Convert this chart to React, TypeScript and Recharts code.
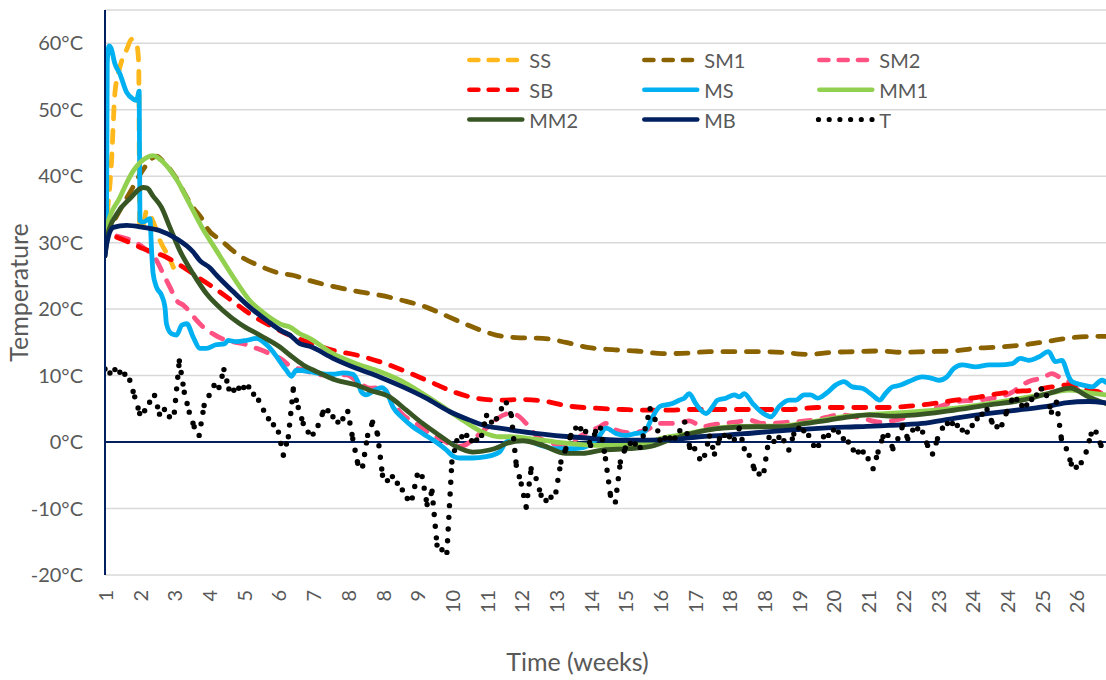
import { CartesianGrid, Label, Line, LineChart, ReferenceLine, XAxis, YAxis } from "recharts";

// x axis runs in days; one tick label every 7 days
const weekLabels = ["1", "2", "3", "4", "5", "6", "7", "8", "8", "9", "10", "11", "12", "13", "14", "15", "16", "17", "18", "18", "19", "20", "21", "22", "23", "24", "24", "25", "26"];
const weekTicks = weekLabels.map((_, i) => i * 7);
const tempTicks = [-20, -10, 0, 10, 20, 30, 40, 50, 60];

// [day, °C]
const ss: [number, number][] = [
  [0, 31], [0.4, 34], [1.3, 42], [2, 52.5], [3, 56.4], [4.4, 59.1], [5.4, 60.6], [6.4, 59.8], [6.8, 57],
  [7.0, 32], [7.7, 32.6], [8.4, 34.8], [9.8, 33], [11.1, 30.3], [13.1, 27.5], [13.8, 26.3],
];

const sm1: [number, number][] = [
  [0, 30.5], [2, 33.5], [5, 37.5], [7.7, 41], [9.7, 42.8], [10.4, 43], [11.75, 42.2], [14.45, 39.6], [16.5, 36.8],
  [17.8, 35.3], [19.8, 33.3], [20.5, 32.3], [23.5, 30.3], [27.2, 28], [31.2, 26.5], [35.3, 25.4], [37.9, 25.1],
  [41.3, 24.3], [46.7, 23.3], [51.4, 22.6], [55.4, 22.1], [60.1, 21.3], [64.8, 20.3], [69.5, 18.8], [74.2, 17.3],
  [78.9, 16.1], [83, 15.7], [88.3, 15.6], [93, 15.0], [97.7, 14.2], [102.4, 13.9], [107.2, 13.7], [112.5, 13.3],
  [117.9, 13.4], [121.9, 13.6], [127.3, 13.6], [132, 13.6], [136.7, 13.5], [141.7, 13.2], [146.8, 13.5],
  [151.5, 13.6], [156.2, 13.7], [160.9, 13.5], [165.6, 13.6], [171, 13.7], [175.7, 14.1], [180.4, 14.3],
  [185.1, 14.6], [189.8, 15.1], [195.1, 15.7], [199.9, 15.9], [202, 15.9],
];

const sm2: [number, number][] = [
  [2.4, 31.0], [4.4, 30.6], [7.7, 29.3], [10.4, 27.3], [11.75, 25.3], [13.1, 23.3], [14.45, 21.3], [15.8, 20.6],
  [17.1, 19.6], [18.5, 18.3], [19.8, 17.3], [22.2, 16.1], [24.5, 15.3], [27.9, 14.8], [30.6, 14.1], [33.3, 13.3],
  [35.9, 12.3], [37.6, 11.3], [39.3, 11.0], [44, 10.1], [48.7, 10.1], [51, 9.1], [53.4, 8.1], [56.1, 8.2],
  [57.4, 6.8], [60.1, 4.1], [62.8, 2.8], [65.5, 1.3], [68.2, 0.3], [70.9, -0.7], [72.5, -0.5], [74.9, 0.8],
  [77.6, 2.5], [79.3, 3.6], [81.6, 4.3], [83, 4.1], [85, 2.8], [87, 1.0], [90.3, -0.2], [93, -0.5], [95.7, 0.8],
  [99.8, 2.3], [101.1, 2.8], [103.1, 1.8], [105.8, 1.4], [109.2, 1.8], [111.9, 2.8], [113.9, 2.8], [116.5, 3.0],
  [117.9, 3.2], [120.6, 2.3], [122.6, 2.6], [124.6, 2.8], [127.3, 3.0], [130, 3.3], [132.7, 2.8], [138.1, 3.0],
  [142.8, 3.3], [145.5, 3.7], [148.1, 4.1], [152.8, 3.6], [156.2, 3.0], [159.5, 3.3], [162, 3.8], [165, 4.5],
  [168.3, 5.3], [170.3, 5.8], [172, 6.1], [175.7, 6.3], [180.4, 6.8], [183.1, 7.5], [185.1, 8.6], [187.1, 9.3],
  [189.1, 9.6], [191.1, 10.3], [192.5, 9.8], [194.5, 9.1], [196, 8.0], [198.5, 7.6], [202, 7.4],
];

const sb: [number, number][] = [
  [2.36, 30.8], [4.4, 30.2], [7.7, 29.1], [12.4, 27.8], [15.8, 26.3], [19.15, 24.6], [21.8, 23.3], [25.9, 21.1],
  [29.2, 19.3], [32.6, 17.8], [36.6, 16.3], [42.7, 14.6], [46, 13.8], [50.7, 13.1], [55.4, 12.1], [60.1, 10.8],
  [65.5, 9.1], [70.2, 7.6], [74.9, 6.6], [79.6, 6.3], [84.3, 6.4], [88.3, 6.2], [93.7, 5.4], [99.1, 5.1],
  [104.5, 4.9], [108.5, 4.8], [113.2, 4.8], [117.9, 4.9], [124.6, 4.9], [131.3, 4.9], [138.1, 4.9], [143.7, 5.2],
  [147.5, 5.2], [152.8, 5.2], [158.2, 5.2], [162.2, 5.4], [166.3, 5.7], [171.6, 6.3], [175.7, 6.7], [180.4, 7.3],
  [183.7, 7.6], [187.1, 7.8], [191.1, 8.3], [194.5, 8.6], [198.5, 7.8], [202, 7.5],
];

const ms: [number, number][] = [
  [0, 30.5], [0.3, 32], [0.45, 57], [0.8, 59.6], [1.2, 59.3], [2, 56.9], [3, 55.4], [4.37, 52.6], [5.7, 51.6],
  [6.4, 51.4], [6.9, 52.8], [7.05, 33.3], [7.7, 33.1], [9.07, 33.6], [9.4, 28.8], [9.7, 25.4], [10.4, 23.3],
  [11.4, 22.1], [12.1, 20.3], [12.4, 17.8], [13.4, 16.3], [14.45, 16.1], [15.5, 17.6], [16.5, 17.8], [17.8, 15.8],
  [19.15, 14.1], [20.5, 14.1], [22.2, 14.6], [24.2, 14.8], [24.8, 15.3], [26.5, 15.1], [28.6, 15.3], [30.6, 15.6],
  [31.9, 15.1], [33.9, 13.6], [35.6, 11.8], [36.6, 10.8], [37.6, 9.9], [38.6, 10.8], [41.3, 10.6], [43.3, 10.3],
  [46, 10.2], [48, 10.4], [50, 10.2], [51, 9.1], [51.7, 7.6], [52.7, 7.1], [54.4, 7.8], [55.8, 8.2], [56.8, 7.6],
  [58.1, 5.3], [60.1, 3.6], [62.1, 2.3], [64.1, 1.3], [66.8, 0], [68.9, -1.2], [70.2, -2.1], [71.5, -2.4],
  [74.2, -2.4], [76.9, -2.2], [79.6, -1.5], [81, 0], [84, 0.5], [88, -0.5], [91, -1.0], [95, -1.0], [97.7, -0.5],
  [99.8, 1.0], [101.1, 2.1], [103.1, 1.3], [105.1, 1.0], [107.2, 1.3], [108.8, 1.5], [110.5, 3.8], [111.9, 5.3],
  [113.2, 5.6], [114.5, 5.8], [115.9, 6.3], [116.9, 6.6], [117.9, 7.3], [119.2, 5.8], [121.3, 4.3], [122.6, 5.3],
  [123.6, 6.3], [125.3, 6.6], [127, 7.1], [128, 6.8], [129, 7.3], [130.7, 5.8], [132.3, 4.6], [134.4, 3.8],
  [136, 5.3], [138.1, 6.3], [139.4, 6.3], [141.1, 7.1], [142.4, 7.1], [143.8, 6.6], [145.5, 7.3], [147.5, 8.6],
  [149.1, 9.1], [150.8, 8.3], [152.8, 8.1], [154.8, 7.1], [156.3, 6.3], [157.5, 7.3], [158.9, 8.3], [160.2, 8.5],
  [162.2, 9.1], [164.9, 9.8], [166.3, 9.7], [168.3, 9.3], [169.9, 9.8], [171.3, 11.1], [173, 11.6], [175.7, 11.3],
  [178.4, 11.6], [180.4, 11.6], [183.1, 11.8], [184.7, 12.6], [186.4, 12.3], [188.4, 12.8], [190.4, 13.6],
  [191.8, 12.1], [193.1, 12.3], [194.5, 9.8], [195.1, 9.1], [197.2, 8.6], [199.2, 8.3], [201.2, 9.3], [202, 9.0],
];

const mm1: [number, number][] = [
  [0, 30.5], [0.34, 32.3], [3, 36.8], [5.7, 40.8], [8.4, 42.8], [9.7, 43.1], [11.75, 42.1], [14.45, 39.5],
  [17.1, 35.8], [19.8, 32], [22.5, 28.8], [25.9, 24.8], [29.2, 21.3], [32.6, 19.1], [35.9, 17.6], [37.3, 17.3],
  [39.3, 16.3], [41.3, 15.6], [46, 13.3], [50.7, 11.8], [55.4, 10.6], [59.5, 9.3], [64.1, 7.3], [68.2, 5.3],
  [72.2, 3.3], [76.2, 1.5], [79.6, 0.8], [81.6, 0.8], [87, 0.4], [91, 0], [95.1, -0.3], [99.8, -0.5], [104.5, -0.5],
  [108.5, -0.2], [113.2, 0.7], [117.9, 1.3], [121.9, 1.9], [126.6, 2.3], [131.3, 2.4], [136, 2.4], [140.7, 2.8],
  [144.8, 3.3], [148.8, 3.8], [153.5, 4.1], [158.2, 4.3], [164.2, 4.6], [171.6, 5.1], [178.4, 5.8], [185.1, 6.6],
  [190.4, 7.3], [194.5, 7.8], [198.5, 7.4], [202, 7.1],
];

const mm2: [number, number][] = [
  [0, 28], [0.5, 31], [2.36, 34.3], [5, 36.6], [7.7, 38.3], [8.5, 38.2], [9.7, 37.0], [11.4, 35.3], [13.1, 32.3],
  [15.1, 28.8], [17.8, 25.3], [20.5, 22.3], [23.8, 19.8], [27.2, 17.8], [31.2, 16.1], [35.3, 14.3], [37.3, 13.1],
  [40, 11.6], [42.7, 10.6], [46.7, 9.3], [50.7, 8.6], [53.4, 7.8], [57.4, 6.8], [60.8, 4.8], [64.1, 2.8],
  [67.5, 1.0], [70.9, -0.7], [74.2, -1.5], [77.6, -1.2], [79.6, -0.7], [81, -0.2], [84.3, 0.2], [88.3, -0.5],
  [93, -1.7], [96.4, -1.7], [100.4, -1.2], [105.8, -1.0], [109.8, -0.7], [113.9, 0.3], [117.9, 1.2], [124.6, 2.1],
  [131.3, 2.3], [136.7, 2.3], [141.4, 2.8], [146.1, 3.3], [150.2, 3.8], [154.2, 4.1], [158.2, 3.9], [163.6, 4.1],
  [170.3, 4.7], [178.4, 5.6], [185.1, 6.3], [190.4, 7.3], [194.8, 8.1], [198.5, 6.8], [202, 5.8],
];

const mb: [number, number][] = [
  [0, 28], [0.34, 29.8], [1.67, 32.3], [4.37, 32.6], [7.7, 32.3], [11.1, 31.8], [14.45, 30.6], [17.8, 28.6],
  [19.15, 27.3], [21.2, 26.2], [22.5, 25.1], [25.9, 22.6], [29.2, 20.3], [32.6, 18.3], [35.9, 16.6], [37.3, 16.1],
  [39.3, 14.8], [41.3, 14.4], [46, 12.6], [50.7, 11.1], [55.4, 9.8], [60.1, 8.3], [64.8, 6.6], [69.5, 4.6],
  [73.6, 3.3], [77.6, 2.3], [79.6, 2.1], [83, 1.7], [88.3, 1.2], [93.7, 0.8], [99.1, 0.5], [104.5, 0.3],
  [109.8, 0.3], [115.2, 0.4], [119.9, 0.8], [124.6, 1.0], [131.3, 1.4], [138.1, 1.8], [144.8, 2.1], [151.5, 2.3],
  [158.2, 2.5], [164.9, 2.8], [171.6, 3.6], [178.4, 4.3], [185.1, 4.9], [190.4, 5.4], [193.8, 5.9], [198.5, 6.1],
  [202, 5.9],
];

// outdoor temperature, one reading per day starting at day 0
const tempT: number[] = [
  11.0, 10.4, 10.9, 10.5, 10.2, 9.3, 6.8, 4.3, 4.7, 6.0,
  7.0, 4.2, 4.9, 3.8, 4.5, 12.2, 7.5, 4.5, 2.3, 1.0,
  5.5, 7.0, 8.5, 8.2, 10.9, 8.0, 7.8, 8.1, 8.2, 8.3,
  7.2, 6.3, 4.8, 3.5, 2.6, 1.5, -2.0, 0.8, 8.0, 5.2,
  2.8, 1.5, 1.2, 2.5, 4.5, 4.7, 3.8, 3.0, 3.5, 4.6,
  0.5, -3.2, -3.6, 1.0, 3.0, 1.2, -5.0, -5.8, -5.2, -6.2,
  -7.2, -8.5, -8.4, -5.0, -5.2, -9.4, -7.4, -15.5, -16.2, -16.6,
  -3.0, 0.2, 0.8, 1.0, 0.2, 0.3, 1.0, 4.0, 3.0, 3.5,
  5.0, 5.9, 4.0, -3.5, -6.3, -9.8, -4.0, -5.5, -8.0, -8.8,
  -8.3, -7.5, -3.0, -1.0, 1.0, 2.1, 2.0, 1.6, -0.5, 1.6,
  2.1, -2.5, -8.0, -9.0, -3.0, -0.9, -0.2, -0.3, -0.8, 2.0,
  5.0, 3.4, 0.3, 0.6, 0.6, 0.6, 1.7, 3.0, -0.8, -1.0,
  -2.5, -2.0, 0.9, -1.8, 0.5, 1.0, 0.8, 0.4, 2.1, -1.0,
  -2.0, -4.0, -4.8, -4.3, 0.7, 0.1, 0.7, 0.2, -1.2, 1.2,
  2.1, 1.7, 1.0, -0.5, -0.5, 0.8, 1.0, 1.8, 1.5, 0.5,
  0.0, -1.2, -1.5, -1.5, -2.5, -4.0, -1.5, 0.8, 1.0, -1.0,
  0.5, 2.5, 0.5, 1.8, 2.0, 1.5, -0.5, -1.8, 0.5, 2.1,
  2.8, 2.8, 2.5, 1.8, 1.5, 2.5, 3.5, 4.2, 4.9, 3.0,
  2.3, 2.6, 4.6, 6.3, 6.4, 5.5, 5.6, 6.4, 7.1, 8.0,
  7.0, 4.5, 6.0, 0.5, -1.0, -3.3, -3.8, -3.1, -1.5, 1.2,
  1.5, -0.5, -1.2,
];

const FONT = "Lato, 'Open Sans', sans-serif";
const GREY = "#595959";
const PLOT_DASH = "12 11.5";
const LEGEND_DASH = "9 10.3";

// each segment becomes its own subpath, so the dot pattern restarts at every vertex
const segmentCurve = (context: any) => {
  let first = true;
  return {
    areaStart() {},
    areaEnd() {},
    lineStart() {
      first = true;
    },
    lineEnd() {},
    point(x: number, y: number) {
      if (first) {
        context.moveTo(x, y);
        first = false;
      } else {
        context.lineTo(x, y);
        context.moveTo(x, y);
      }
    },
  };
};

const toRows = (pts: [number, number][]) => pts.map(([day, v]) => ({ day, v }));

type Series = { name: string; color: string; rows: { day: number; v: number }[]; kind: "dash" | "solid" | "dot" };

const series: Series[] = [
  { name: "SS", color: "#FFB81C", rows: toRows(ss), kind: "dash" },
  { name: "SM1", color: "#8A6200", rows: toRows(sm1), kind: "dash" },
  { name: "SM2", color: "#FF5283", rows: toRows(sm2), kind: "dash" },
  { name: "SB", color: "#FF0000", rows: toRows(sb), kind: "dash" },
  { name: "MS", color: "#00B0F0", rows: toRows(ms), kind: "solid" },
  { name: "MM1", color: "#92D050", rows: toRows(mm1), kind: "solid" },
  { name: "MM2", color: "#375623", rows: toRows(mm2), kind: "solid" },
  { name: "MB", color: "#002060", rows: toRows(mb), kind: "solid" },
  { name: "T", color: "#000000", rows: tempT.map((v, day) => ({ day, v })), kind: "dot" },
];

function WeekTick({ x, y, payload }: any) {
  return (
    <text
      x={x}
      y={y}
      transform={`rotate(-90, ${x}, ${y})`}
      textAnchor="end"
      dominantBaseline="central"
      fill={GREY}
      fontSize={20}
      fontFamily={FONT}
    >
      {weekLabels[Math.round(payload.value / 7)]}
    </text>
  );
}

function LegendBox() {
  return (
    <svg width={1106} height={680} style={{ position: "absolute", left: 0, top: 0, pointerEvents: "none" }}>
      {series.map((s, i) => {
        const x = 467 + (i % 3) * 175;
        const y = 60 + Math.floor(i / 3) * 29.75;
        const dot = s.kind === "dot";
        return (
          <g key={s.name}>
            <line
              x1={dot ? x + 1.5 : x + 2.4}
              x2={dot ? x + 55 : x + 55.2}
              y1={y}
              y2={y}
              stroke={s.color}
              strokeWidth={dot ? 5.2 : 4.7}
              strokeLinecap="round"
              strokeDasharray={s.kind === "dash" ? LEGEND_DASH : dot ? "0 10.7" : undefined}
            />
            <text x={x + 62.3} y={y} dominantBaseline="central" fill={GREY} fontSize={20} fontFamily={FONT}>
              {s.name}
            </text>
          </g>
        );
      })}
    </svg>
  );
}

export default function App() {
  return (
    <div style={{ position: "absolute", left: 0, top: 0, width: 1106, height: 680, background: "#fff" }}>
      <LineChart width={1106} height={680} margin={{ top: 10, right: 0, bottom: 0, left: 0 }}>
        <CartesianGrid vertical={false} stroke="#D9D9D9" strokeWidth={1.5} />
        <XAxis
          dataKey="day"
          type="number"
          domain={[0, 202]}
          ticks={weekTicks}
          interval={0}
          allowDataOverflow
          tick={<WeekTick />}
          tickLine={false}
          axisLine={false}
          tickSize={0}
          tickMargin={15}
          height={105}
        >
          <Label
            content={({ viewBox }: any) => (
              <text
                x={viewBox.x + viewBox.width / 2 - 28}
                y={viewBox.y + 96}
                textAnchor="middle"
                fill={GREY}
                fontSize={25}
                fontFamily={FONT}
              >
                Time (weeks)
              </text>
            )}
          />
        </XAxis>
        <YAxis
          type="number"
          domain={[-20, 65]}
          ticks={tempTicks}
          allowDataOverflow
          tickFormatter={(v: number) => `${v}°C`}
          tick={{ fill: GREY, fontSize: 20, fontFamily: FONT }}
          tickLine={false}
          tickSize={0}
          tickMargin={22}
          axisLine={{ stroke: "#002060", strokeWidth: 2 }}
          width={105}
        >
          <Label
            content={({ viewBox }: any) => (
              <text
                transform={`translate(28, ${viewBox.y + viewBox.height / 2}) rotate(-90)`}
                textAnchor="middle"
                fill={GREY}
                fontSize={25}
                fontFamily={FONT}
              >
                Temperature
              </text>
            )}
          />
        </YAxis>
        <ReferenceLine y={0} stroke="#002060" strokeWidth={2} />
        {series.map((s) => (
          <Line
            key={s.name}
            data={s.rows}
            dataKey="v"
            name={s.name}
            type={s.kind === "dot" ? (segmentCurve as any) : "monotone"}
            stroke={s.color}
            strokeWidth={s.kind === "dot" ? 5.4 : 4.8}
            strokeDasharray={s.kind === "dash" ? PLOT_DASH : s.kind === "dot" ? "0 11.7" : undefined}
            strokeLinecap="round"
            strokeLinejoin="round"
            dot={false}
            activeDot={false}
            isAnimationActive={false}
          />
        ))}
      </LineChart>
      <LegendBox />
    </div>
  );
}
